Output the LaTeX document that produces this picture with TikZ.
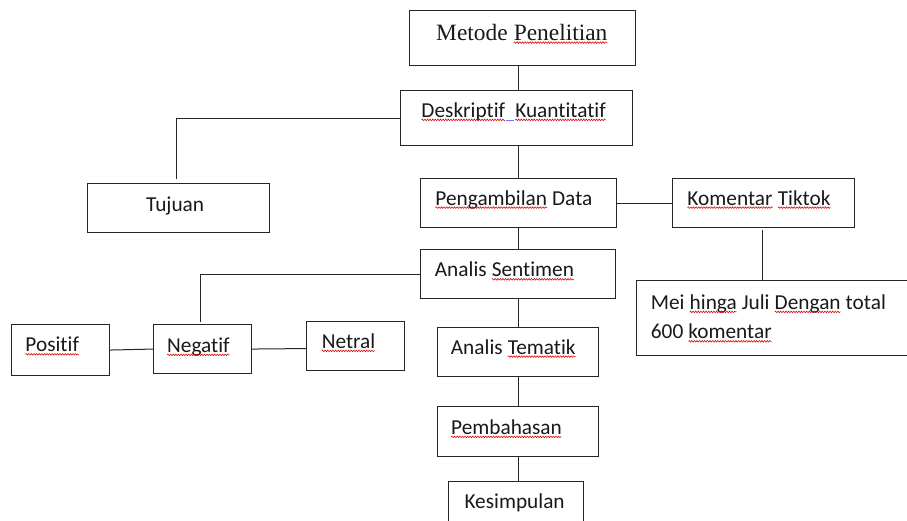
\documentclass[tikz,border=0pt]{standalone}
\usepackage{fontspec}
\setmainfont[Ligatures=NoCommon]{Carlito}
\newfontfamily\serifft[Ligatures=NoCommon]{Liberation Serif}
\usetikzlibrary{decorations.pathmorphing}
\newcommand\wv[1]{\tikz[baseline=(w.base)]{\node[inner sep=0pt,outer sep=0pt](w){#1};\draw[red!85!black,line width=0.55pt,decorate,decoration={snake,amplitude=0.8pt,segment length=2.6pt}]([yshift=-2.6pt]w.base west)--([yshift=-2.6pt]w.base east);}}
\begin{document}
\begin{tikzpicture}[x=1pt,y=-1pt,
  boxst/.style={draw=black!85,line width=1.1pt,rectangle,inner sep=0pt},
  lnk/.style={draw=black!85,line width=1pt},
  txt/.style={inner sep=0pt,anchor=base west,font=\fontsize{21.3pt}{26pt}\selectfont,text=black!90}]
\useasboundingbox (0,0) rectangle (907,520);
% boxes
\node[boxst,minimum width=226pt,minimum height=55pt,anchor=north west] (m) at (409,10) {};
\node[boxst,minimum width=232pt,minimum height=55pt,anchor=north west] (d) at (400,90) {};
\node[boxst,minimum width=182pt,minimum height=49pt,anchor=north west] (tj) at (87,183) {};
\node[boxst,minimum width=196pt,minimum height=49pt,anchor=north west] (pd) at (420,178) {};
\node[boxst,minimum width=182pt,minimum height=49pt,anchor=north west] (kt) at (672,178) {};
\node[boxst,minimum width=290pt,minimum height=75pt,anchor=north west] (mei) at (636,280) {};
\node[boxst,minimum width=195pt,minimum height=49pt,anchor=north west] (as) at (420,249) {};
\node[boxst,minimum width=98pt,minimum height=51pt,anchor=north west] (po) at (11,324) {};
\node[boxst,minimum width=98pt,minimum height=49pt,anchor=north west] (ng) at (153,324) {};
\node[boxst,minimum width=98pt,minimum height=49pt,anchor=north west] (nt) at (306,321) {};
\node[boxst,minimum width=161pt,minimum height=49pt,anchor=north west] (at) at (437,327) {};
\node[boxst,minimum width=161pt,minimum height=50pt,anchor=north west] (pb) at (437,406) {};
\node[boxst,minimum width=135pt,minimum height=60pt,anchor=north west] (ks) at (448,481) {};
% texts
\node[txt,font=\serifft\fontsize{23.4pt}{28pt}\selectfont] (tm) at (436,40) {Metode \wv{Penelitian}};
\node[txt] (td) at (421,117.3) {\wv{Deskriptif}\tikz[baseline=0pt]{\path(0,0)--(9pt,0);\draw[blue!55,line width=1.6pt](0.5pt,-3pt)--(8.5pt,-3pt);}\wv{Kuantitatif}};
\node[txt] (ttj) at (146,211.7) {Tujuan};
\node[txt] (tpd) at (435,205) {\wv{Pengambilan} Data};
\node[txt] (tkt) at (687,205) {\wv{Komentar} \wv{Tiktok}};
\node[txt] (tmei1) at (650.7,309.3) {Mei \wv{hinga} Juli \wv{Dengan} total};
\node[txt] (tmei2) at (650.7,338.7) {600 \wv{komentar}};
\node[txt] (tas) at (434.7,276.7) {Analis \wv{Sentimen}};
\node[txt] (tpo) at (25,351.7) {\wv{Positif}};
\node[txt] (tng) at (166.7,352.3) {\wv{Negatif}};
\node[txt] (tnt) at (321.3,348.3) {\wv{Netral}};
\node[txt] (tat) at (450.7,354) {Analis \wv{Tematik}};
\node[txt] (tpb) at (450.7,434.3) {\wv{Pembahasan}};
\node[txt] (tks) at (464.3,508.3) {Kesimpulan};
% connector helper coordinates
\coordinate (spine) at (518,0);
\coordinate (tjend) at (176,179);
\coordinate (ngend) at (200,322);
\coordinate (meiend) at (762,280);
% connectors
\draw[lnk] (m.south -| spine) -- (d.north -| spine);
\draw[lnk] (d.south -| spine) -- (pd.north -| spine);
\draw[lnk] (d.west) -| (tjend);
\draw[lnk] (pd.east) -- (pd.east -| kt.west);
\draw[lnk] ([yshift=-2pt]kt.south -| meiend) -- (meiend);
\draw[lnk] (pd.south -| spine) -- (as.north -| spine);
\draw[lnk] (as.west) -| (ngend);
\draw[lnk] (po.east) -- (ng.west);
\draw[lnk] (ng.east) -- ([yshift=-2.5pt]nt.west);
\draw[lnk] (as.south -| spine) -- (at.north -| spine);
\draw[lnk] (at.south -| spine) -- (pb.north -| spine);
\draw[lnk] (pb.south -| spine) -- (ks.north -| spine);
\end{tikzpicture}
\end{document}
